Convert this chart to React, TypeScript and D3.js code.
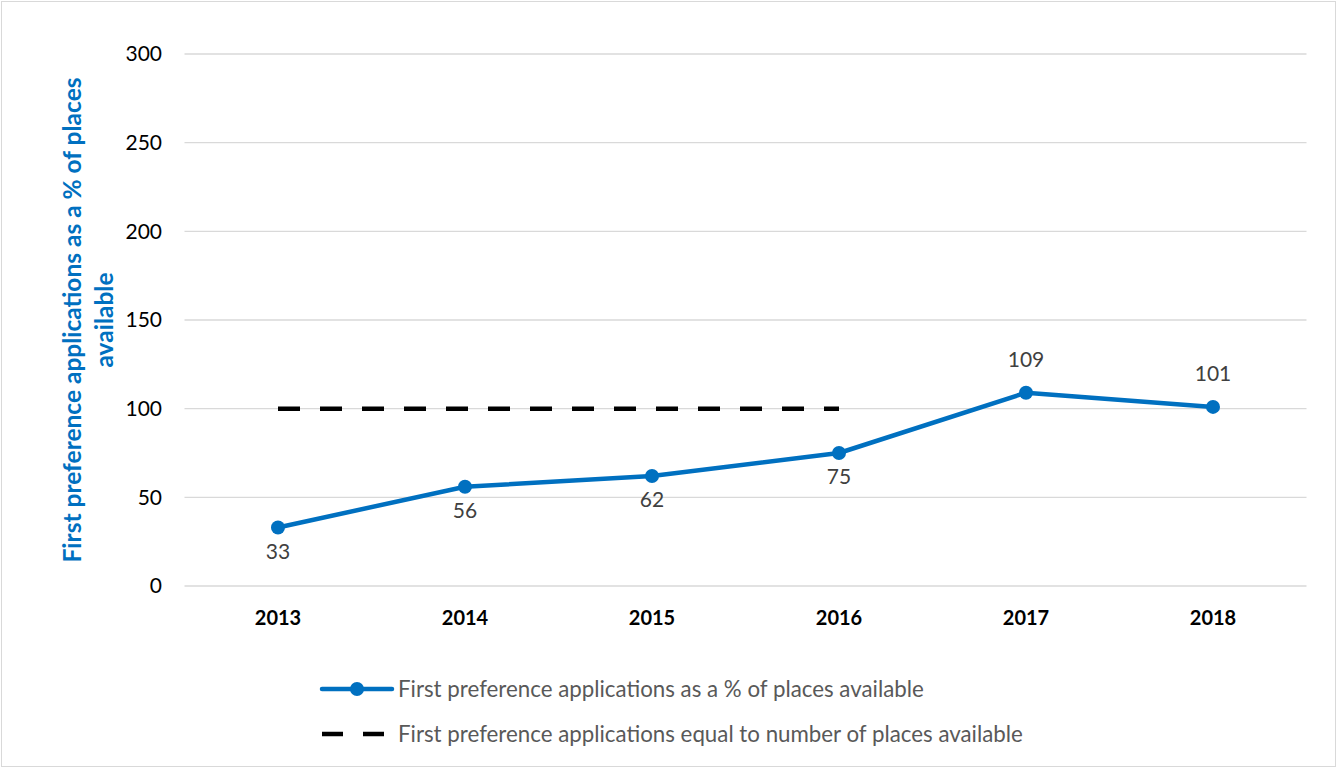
import { useEffect } from 'react';
import * as d3 from 'd3';

// chart values
const years = ['2013', '2014', '2015', '2016', '2017', '2018'];
const pctValues = [33, 56, 62, 75, 109, 101];
const equalYears = ['2013', '2014', '2015', '2016'];
const equalValues = [100, 100, 100, 100];
const yTicks = [0, 50, 100, 150, 200, 250, 300];
const labelBelow = [true, true, true, true, false, false];

const seriesName = 'First preference applications as a % of places available';
const equalName = 'First preference applications equal to number of places available';
const yTitleLines = ['First preference applications as a % of places', 'available'];

const WIDTH = 1337;
const HEIGHT = 768;
const BLUE = '#0070C0';
const FONT = 'Lato, "Open Sans", sans-serif';

export default function App() {
	useEffect(() => {
		document.body.style.margin = '0';
	}, []);

	const x = d3.scaleBand<string>().domain(years).range([184.5, 1306.5]);
	const y = d3.scaleLinear().domain([0, 300]).range([586, 54]);
	const cx = (d: string) => (x(d) ?? 0) + x.bandwidth() / 2;

	const line = d3
		.line<number>()
		.x((_, i) => cx(years[i]))
		.y((d) => y(d));

	const equalLine = d3
		.line<number>()
		.x((_, i) => cx(equalYears[i]))
		.y((d) => y(d));

	const [x0, x1] = x.range();

	return (
		<svg width={WIDTH} height={HEIGHT} style={{ display: 'block', fontFamily: FONT }}>
			<rect x={1.5} y={1.5} width={WIDTH - 3} height={HEIGHT - 3} fill="#fff" stroke="#d9d9d9" />

			{/* gridlines + y ticks */}
			{yTicks.map((t) => (
				<g key={t}>
					<line x1={x0} x2={x1} y1={y(t)} y2={y(t)} stroke="#d9d9d9" strokeWidth={1.3} />
					<text x={162} y={y(t)} dy="0.35em" textAnchor="end" fontSize={21} fill="#000">
						{t}
					</text>
				</g>
			))}

			{/* x labels */}
			{years.map((yr) => (
				<text key={yr} x={cx(yr)} y={618} dy="0.35em" textAnchor="middle" fontSize={20} fontWeight="bold" fill="#000">
					{yr}
				</text>
			))}

			{/* y title */}
			<g transform="translate(72,320) rotate(-90)">
				{yTitleLines.map((l, i) => (
					<text key={i} x={0} y={i * 32} dy="0.35em" textAnchor="middle" fontSize={24.5} fontWeight="bold" fill={BLUE}>
						{l}
					</text>
				))}
			</g>

			{/* dashed reference line */}
			<path d={equalLine(equalValues) ?? ''} fill="none" stroke="#000" strokeWidth={4.5} strokeDasharray="22,20" />

			{/* main series */}
			<path d={line(pctValues) ?? ''} fill="none" stroke={BLUE} strokeWidth={4.5} strokeLinejoin="round" />
			{pctValues.map((v, i) => (
				<circle key={i} cx={cx(years[i])} cy={y(v)} r={7} fill={BLUE} />
			))}
			{pctValues.map((v, i) => (
				<text
					key={`l${i}`}
					x={cx(years[i])}
					y={labelBelow[i] ? y(v) + 24 : y(v) - 33}
					dy="0.35em"
					textAnchor="middle"
					fontSize={21}
					fill="#404040"
				>
					{v}
				</text>
			))}

			{/* legend */}
			<g>
				<line x1={322} x2={392} y1={689} y2={689} stroke={BLUE} strokeWidth={4.5} strokeLinecap="round" />
				<circle cx={357} cy={689} r={7} fill={BLUE} />
				<text x={398} y={689} dy="0.35em" fontSize={22.3} fill="#595959">
					{seriesName}
				</text>
				<line x1={322} x2={386} y1={734} y2={734} stroke="#000" strokeWidth={4.5} strokeDasharray="21,20" />
				<text x={398} y={734} dy="0.35em" fontSize={22.3} fill="#595959">
					{equalName}
				</text>
			</g>
		</svg>
	);
}
